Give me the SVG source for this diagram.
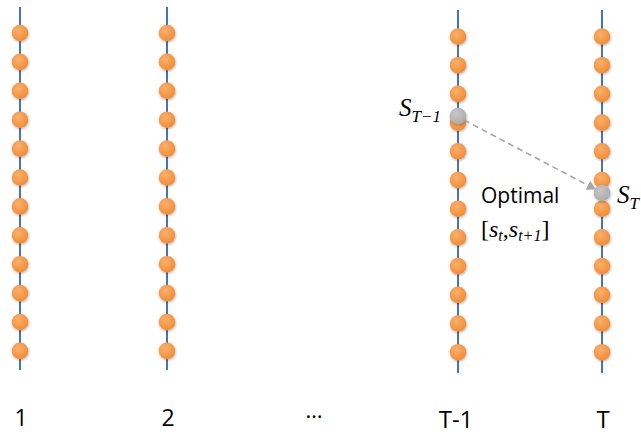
<svg xmlns="http://www.w3.org/2000/svg" width="641" height="438" viewBox="0 0 641 438">
<defs>
<radialGradient id="og" cx="0.4" cy="0.35" r="0.7">
<stop offset="0" stop-color="#FBB06E"/>
<stop offset="1" stop-color="#F28A2E"/>
</radialGradient>
<radialGradient id="gg" cx="0.4" cy="0.35" r="0.7">
<stop offset="0" stop-color="#C8C8C8"/>
<stop offset="1" stop-color="#A9A9A9"/>
</radialGradient>
<filter id="sh" x="-50%" y="-50%" width="200%" height="200%">
<feDropShadow dx="0.6" dy="1.2" stdDeviation="0.8" flood-color="#000" flood-opacity="0.3"/>
</filter>
<marker id="ah" markerWidth="10" markerHeight="10" refX="8" refY="5" orient="auto" markerUnits="userSpaceOnUse">
<path d="M0,0 L9,5 L0,10 z" fill="#A6A6A6"/>
</marker>
</defs>
<style>
.ax{stroke:#4472C4;stroke-width:2}
.o{fill:url(#og);filter:url(#sh)}
.g{fill:url(#gg);filter:url(#sh)}
.lb{font-family:"Open Sans","Liberation Sans",sans-serif;fill:#000;text-anchor:middle}
.m{font-family:"Liberation Serif","DejaVu Serif",serif;font-style:italic;fill:#000}
</style>
<rect width="641" height="438" fill="#fff"/>
<g id="col1">
<line x1="20" y1="7" x2="20" y2="370" class="ax"/>
<circle cx="20" cy="33" r="8.3" class="o"/><circle cx="20" cy="61.9" r="8.3" class="o"/><circle cx="20" cy="90.8" r="8.3" class="o"/><circle cx="20" cy="119.7" r="8.3" class="o"/><circle cx="20" cy="148.6" r="8.3" class="o"/><circle cx="20" cy="177.5" r="8.3" class="o"/><circle cx="20" cy="206.4" r="8.3" class="o"/><circle cx="20" cy="235.3" r="8.3" class="o"/><circle cx="20" cy="264.2" r="8.3" class="o"/><circle cx="20" cy="293.1" r="8.3" class="o"/><circle cx="20" cy="322" r="8.3" class="o"/><circle cx="20" cy="350.9" r="8.3" class="o"/>
</g>
<g id="col2">
<line x1="167" y1="7" x2="167" y2="370" class="ax"/>
<circle cx="167" cy="33" r="8.3" class="o"/><circle cx="167" cy="61.9" r="8.3" class="o"/><circle cx="167" cy="90.8" r="8.3" class="o"/><circle cx="167" cy="119.7" r="8.3" class="o"/><circle cx="167" cy="148.6" r="8.3" class="o"/><circle cx="167" cy="177.5" r="8.3" class="o"/><circle cx="167" cy="206.4" r="8.3" class="o"/><circle cx="167" cy="235.3" r="8.3" class="o"/><circle cx="167" cy="264.2" r="8.3" class="o"/><circle cx="167" cy="293.1" r="8.3" class="o"/><circle cx="167" cy="322" r="8.3" class="o"/><circle cx="167" cy="350.9" r="8.3" class="o"/>
</g>
<g id="col3">
<line x1="458" y1="10" x2="458" y2="373" class="ax"/>
<circle cx="458" cy="36.5" r="8.3" class="o"/><circle cx="458" cy="65.2" r="8.3" class="o"/><circle cx="458" cy="93.9" r="8.3" class="o"/><circle cx="458" cy="122.6" r="8.3" class="o"/><circle cx="458" cy="151.3" r="8.3" class="o"/><circle cx="458" cy="180" r="8.3" class="o"/><circle cx="458" cy="208.7" r="8.3" class="o"/><circle cx="458" cy="237.4" r="8.3" class="o"/><circle cx="458" cy="266.1" r="8.3" class="o"/><circle cx="458" cy="294.8" r="8.3" class="o"/><circle cx="458" cy="323.5" r="8.3" class="o"/><circle cx="458" cy="352.2" r="8.3" class="o"/>
<circle cx="458" cy="116" r="8.3" class="g"/>
</g>
<g id="col4">
<line x1="602" y1="10" x2="602" y2="373" class="ax"/>
<circle cx="602" cy="36.5" r="8.3" class="o"/><circle cx="602" cy="65.2" r="8.3" class="o"/><circle cx="602" cy="93.9" r="8.3" class="o"/><circle cx="602" cy="122.6" r="8.3" class="o"/><circle cx="602" cy="151.3" r="8.3" class="o"/><circle cx="602" cy="180" r="8.3" class="o"/><circle cx="602" cy="208.7" r="8.3" class="o"/><circle cx="602" cy="237.4" r="8.3" class="o"/><circle cx="602" cy="266.1" r="8.3" class="o"/><circle cx="602" cy="294.8" r="8.3" class="o"/><circle cx="602" cy="323.5" r="8.3" class="o"/><circle cx="602" cy="352.2" r="8.3" class="o"/>
<circle cx="602" cy="193" r="8.3" class="g"/>
</g>
<g id="connectors">
<line x1="464" y1="120" x2="595" y2="189" stroke="#A6A6A6" stroke-width="1.6" stroke-dasharray="6,4" marker-end="url(#ah)"/>
</g>
<g id="labels">
<text x="399" y="116" class="m" font-size="25">S<tspan font-size="17" dy="6">T−1</tspan></text>
<text x="617" y="203" class="m" font-size="25">S<tspan font-size="17" dy="6">T</tspan></text>
<text x="481" y="203" font-family="Open Sans, Liberation Sans, sans-serif" font-size="21" fill="#000">Optimal</text>
<text x="481" y="237" class="m" font-size="24"><tspan font-style="normal">[</tspan>s<tspan font-size="16" dy="4">t</tspan><tspan dy="-4" font-style="normal">,</tspan>s<tspan font-size="16" dy="4">t+1</tspan><tspan dy="-4" font-style="normal">]</tspan></text>
<text x="21" y="426" class="lb" font-size="23">1</text>
<text x="168" y="426" class="lb" font-size="23">2</text>
<text x="314" y="418" class="lb" font-size="22">…</text>
<text x="456" y="428" class="lb" font-size="24">T-1</text>
<text x="603" y="428" class="lb" font-size="24">T</text>
</g>
</svg>
